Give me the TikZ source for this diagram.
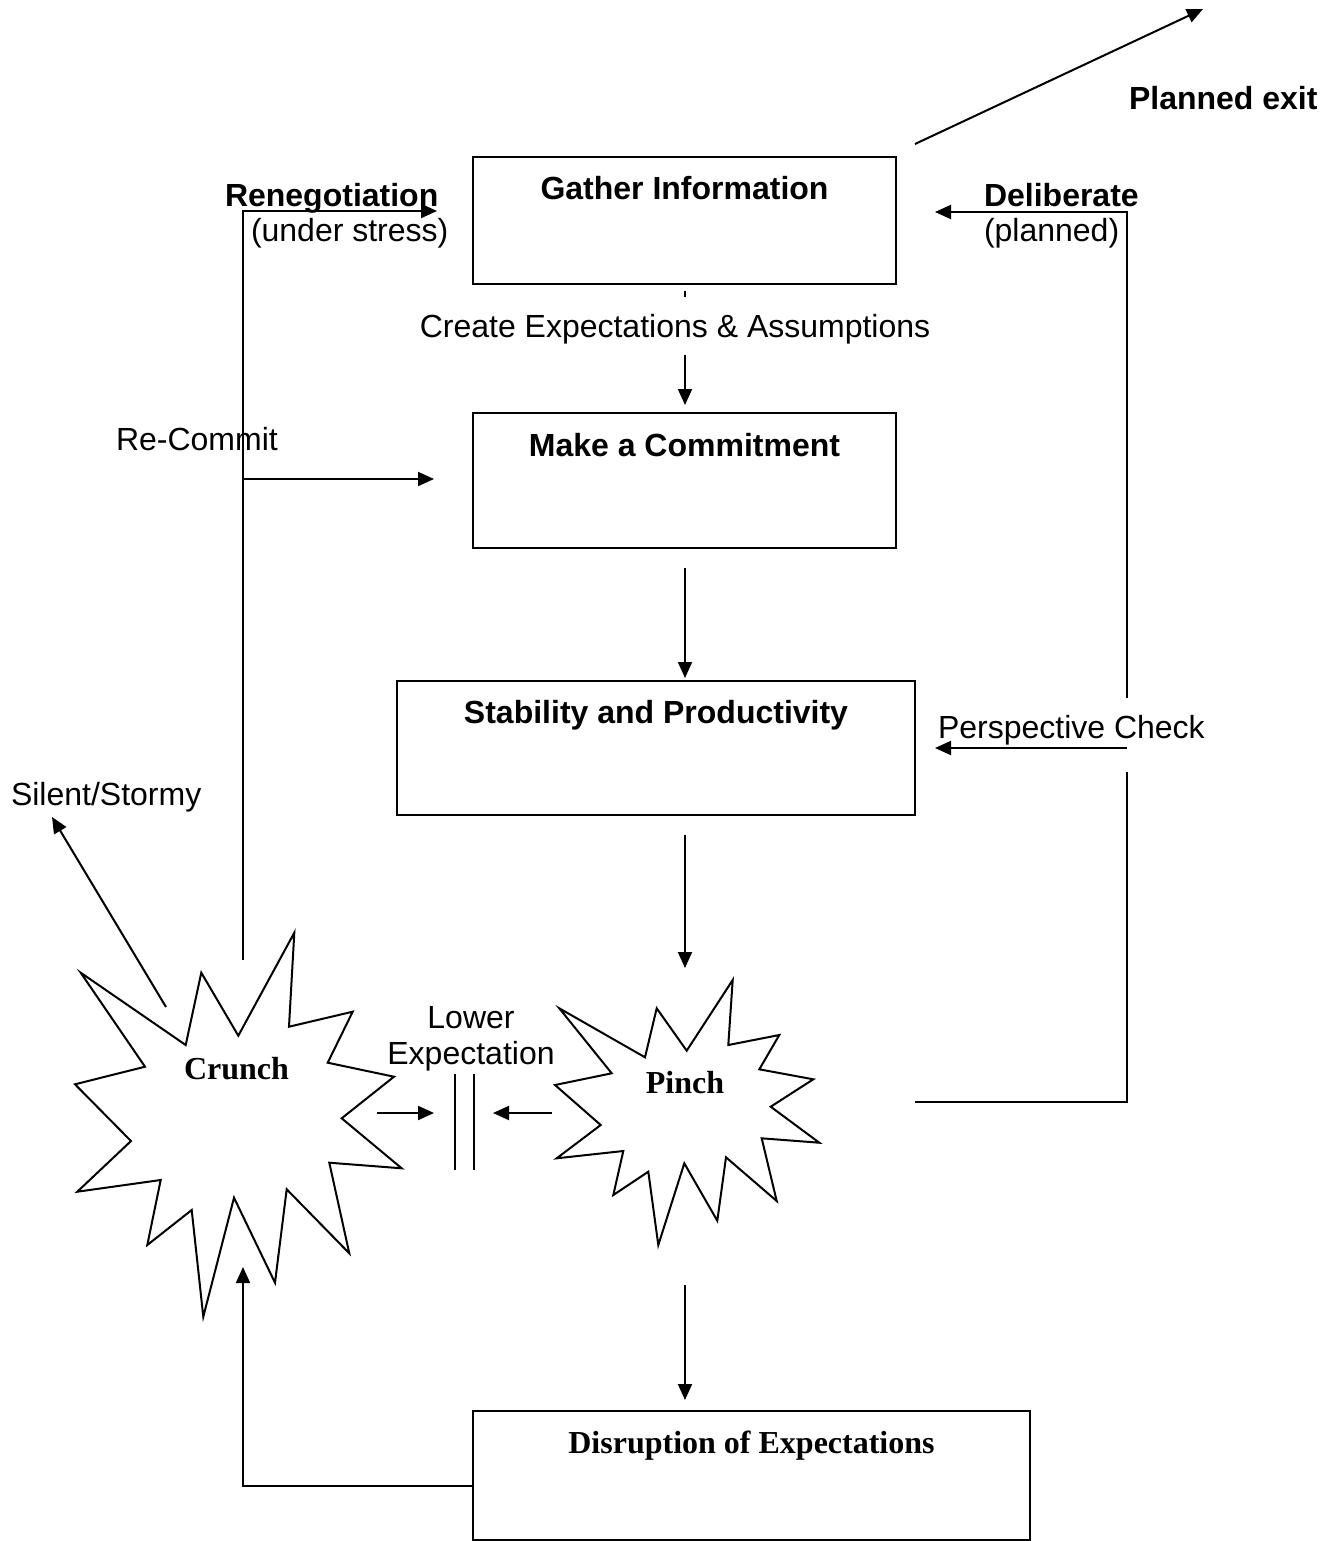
\documentclass[tikz,border=0pt]{standalone}
\usepackage{fontspec}
\setmainfont{Liberation Sans}
\newfontfamily\tnr{Liberation Serif}
\usetikzlibrary{arrows.meta}
\begin{document}
\begin{tikzpicture}[x=0.5pt,y=-0.5pt,line width=1pt,
  arr/.style={-{Triangle[length=8pt,width=7pt]}},
  box/.style={draw,rectangle,inner sep=0pt,outer sep=0pt},
  txt/.style={font=\fontsize{16}{19}\selectfont,inner sep=0pt,anchor=base},
  btxt/.style={txt,font=\fontsize{16}{19}\selectfont\bfseries},
  ttxt/.style={txt,font=\fontsize{16}{19}\selectfont\tnr\bfseries}]
\useasboundingbox (0,0) rectangle (1324,1541);

% boxes
\node[box,minimum width=211.5pt,minimum height=63.5pt] (gather) at (684.5,220.5) {};
\node[box,minimum width=211.5pt,minimum height=67.5pt] (commit) at (684.5,480.5) {};
\node[box,minimum width=259pt,minimum height=67pt] (stab) at (656,748) {};
\node[box,minimum width=278.5pt,minimum height=64.5pt] (disr) at (751.5,1475.5) {};

\node[btxt] (gatherT) at (684.5,199) {Gather Information};
\node[btxt] (commitT) at (684.5,456) {Make a Commitment};
\node[btxt] (stabT) at (656,723) {Stability and Productivity};
\node[ttxt] (disrT) at (751.5,1453) {Disruption of Expectations};

% starbursts
\draw (80.7,972.7) -- (185.7,1045) -- (201.3,972.7) -- (238.3,1035.7) -- (294.3,932.7)
  -- (289,1026.7) -- (352.7,1011.7) -- (327.7,1062.7) -- (394,1076.7) -- (341.7,1118.3)
  -- (401.7,1168.3) -- (329.3,1162.7) -- (349.3,1253.3) -- (286.7,1189.3) -- (275,1282.7)
  -- (234,1197.7) -- (203.3,1316.7) -- (191.7,1210) -- (147.3,1245) -- (160.7,1180)
  -- (77.3,1191.7) -- (131,1141) -- (75,1084.3) -- (145,1066.7) -- cycle;
\draw (559.3,1008.3) -- (645,1057.3) -- (656.7,1008.3) -- (686.7,1050.7) -- (732.7,980)
  -- (728.3,1045) -- (779.3,1035) -- (759.3,1069.3) -- (813.3,1079.3) -- (770.7,1106.7)
  -- (819.3,1142.7) -- (761.7,1138.3) -- (776.7,1201) -- (726,1157.3) -- (717.3,1220.7)
  -- (684.3,1163.3) -- (658.3,1245) -- (648.3,1171.7) -- (613.3,1195) -- (623.3,1151)
  -- (556.7,1158.3) -- (600.7,1125) -- (555,1085) -- (611.7,1073.3) -- cycle;
\node[ttxt] (crunch) at (236.5,1079) {Crunch};
\node[ttxt] (pinch) at (685,1093) {Pinch};

% labels
\node[btxt,anchor=base west] (reneg) at (224,206) {Renegotiation};
\node[txt,anchor=base west] (stress) at (250,241) {(under stress)};
\node[txt,anchor=base west] (recommit) at (115,450) {Re-Commit};
\node[txt,anchor=base west] (silent) at (10,805) {Silent/Stormy};
\node[btxt,anchor=base west] (delib) at (983,206) {Deliberate};
\node[txt,anchor=base west] (planned) at (983,241) {(planned)};
\node[btxt,anchor=base west] (exit) at (1128,110) {Planned exit};
\node[txt] (lower) at (471,1028) {Lower};
\node[txt] (expect) at (471,1064) {Expectation};

% coordinates
\coordinate (gc1) at (685,291);
\coordinate (gc2) at (685,405);
\coordinate (cs1) at (685,568);
\coordinate (cs2) at (685,678);
\coordinate (sp1) at (685,835);
\coordinate (sp2) at (685,968);
\coordinate (pd1) at (685,1285);
\coordinate (pd2) at (685,1400);
\coordinate (dw) at (473,1485.5);
\coordinate (crBot) at (243,1267);
\coordinate (crTop) at (243,960);
\coordinate (renEnd) at (437,211);
\coordinate (rc1) at (243,479);
\coordinate (rc2) at (434,479);
\coordinate (silA) at (166,1007);
\coordinate (silB) at (52,817);
\coordinate (pr) at (915,1102);
\coordinate (rc) at (1127,1102);
\coordinate (rt) at (1127,212);
\coordinate (delEnd) at (935,212);
\coordinate (pc1) at (1127,748);
\coordinate (pc2) at (935,748);
\coordinate (ex1) at (915,144);
\coordinate (ex2) at (1203,9);
\coordinate (cl1) at (377,1113);
\coordinate (cl2) at (434,1113);
\coordinate (pl1) at (552,1113);
\coordinate (pl2) at (493,1113);

% connectors
\draw[arr] (gc1) -- (gc2);
\node[txt,fill=white,text height=20pt,text depth=9pt] (createL) at (675,337) {Create Expectations \& Assumptions};
\draw[arr] (cs1) -- (cs2);
\draw[arr] (sp1) -- (sp2);
\draw[arr] (pd1) -- (pd2);
\draw[arr] (dw) -| (crBot);
\draw[arr] (crTop) |- (renEnd);
\draw[arr] (rc1) -- (rc2);
\draw[arr] (silA) -- (silB);
\draw[arr] (pr) -- (rc) -- (rt) -- (delEnd);
\node[txt,anchor=base west,fill=white,text height=20pt,text depth=17pt,inner xsep=1pt] (persp) at (935,738) {Perspective Check};
\draw[arr] (pc1) -- (pc2);
\draw[arr] (ex1) -- (ex2);
\draw[arr] (cl1) -- (cl2);
\draw[arr] (pl1) -- (pl2);
\draw (454.5,1074) -- (454.5,1170);
\draw (473.5,1074) -- (473.5,1170);
\end{tikzpicture}
\end{document}
